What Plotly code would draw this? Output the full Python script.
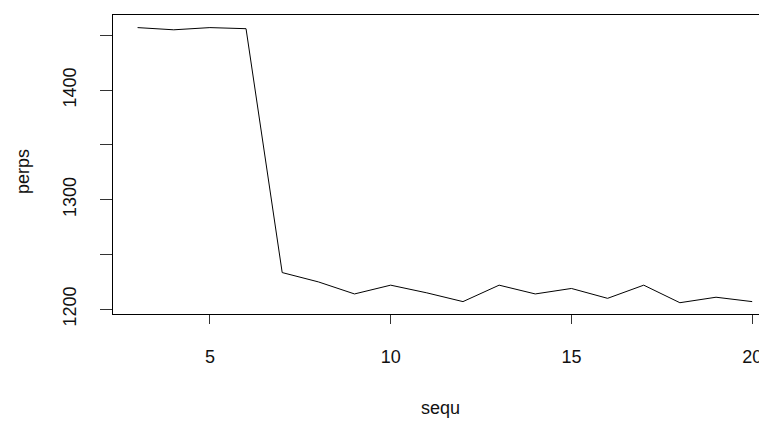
import plotly.graph_objects as go

sequ = list(range(3, 21))
perps = [1457, 1455, 1457, 1456, 1233.5, 1225, 1214, 1222, 1215, 1207,
         1222, 1214, 1219, 1210, 1222, 1206, 1211, 1207]
x_ticks = [5, 10, 15, 20]
y_ticks = [1200, 1250, 1300, 1350, 1400, 1450]
y_tick_labels = ["1200", "", "1300", "", "1400", ""]

# page body has an 8px default margin, so the figure is placed at (8, 8)
OFF = 8
W, H = 767 - OFF, 425 - OFF
L, R, T, B = 113 - OFF, 0, 15 - OFF, 111
pw = W - L - R
ph = H - T - B

font = dict(family="Liberation Sans, Arial, sans-serif", size=18, color="#111")

fig = go.Figure()
fig.add_trace(go.Scatter(x=sequ, y=perps, mode="lines",
                         line=dict(color="black", width=1), showlegend=False,
                         hoverinfo="skip"))

# pixel helpers in page coordinates -> paper coordinates
def px_x(px):
    return (px - OFF - L) / pw

def px_y(py):
    return (T + ph - (py - OFF)) / ph

fig.update_layout(
    width=W, height=H,
    margin=dict(l=L, r=R, t=T, b=B, autoexpand=False),
    paper_bgcolor="white", plot_bgcolor="white",
    font=font,
    xaxis=dict(range=[2.32, 20.41], tickvals=x_ticks, ticktext=[str(v) for v in x_ticks],
               showgrid=False, zeroline=False, showline=True, linecolor="black",
               linewidth=1, mirror=True, ticks="outside", ticklen=9, tickwidth=1,
               tickcolor="#333", ticklabelstandoff=17, tickfont=font, automargin=False),
    yaxis=dict(range=[1195.7, 1468.5], tickvals=y_ticks, ticktext=y_tick_labels,
               showgrid=False, zeroline=False, showline=True, linecolor="black",
               linewidth=1, mirror=False, ticks="outside", ticklen=12, tickwidth=1,
               tickcolor="#333", tickangle=-90, ticklabelstandoff=17, tickfont=font,
               automargin=False),
    annotations=[
        dict(text="sequ", xref="paper", yref="paper", x=0.5, y=px_y(408),
             xanchor="center", yanchor="middle", showarrow=False, font=font),
        dict(text="perps", xref="paper", yref="paper", x=px_x(23), y=px_y(172),
             xanchor="center", yanchor="middle", textangle=-90, showarrow=False, font=font),
    ],
)

fig.write_html("out.html")
